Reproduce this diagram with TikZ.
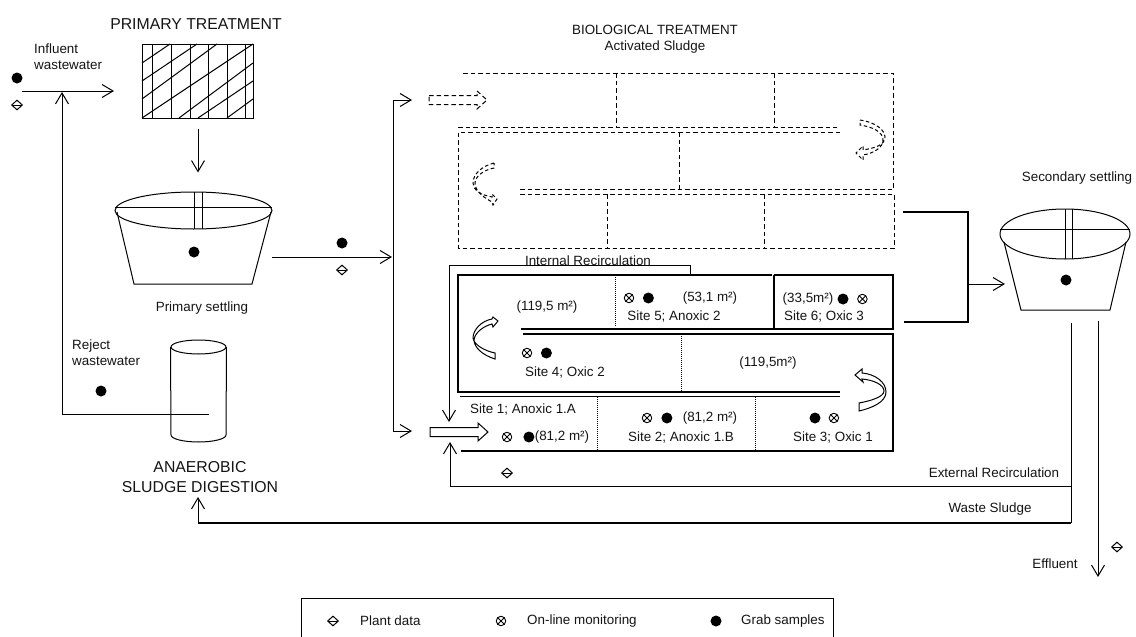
\documentclass[tikz,border=0pt]{standalone}
\usepackage{fontspec}
\setmainfont{Liberation Sans}
\usepackage{xcolor}
\usetikzlibrary{arrows.meta, positioning, shapes.geometric}
\definecolor{inkblack}{RGB}{20,20,20}
\tikzset{
  flow/.style={-{Straight Barb[length=11pt,width=13pt]},line width=1pt},
  wall/.style={line width=1.2pt},
  biodash/.style={line width=1pt,dash pattern=on 4.5pt off 3pt},
  sitedot/.style={line width=0.9pt,dash pattern=on 1pt off 1pt},
  bigtxt/.style={font=\fontsize{15.8}{20}\selectfont},
  grab/.style={circle,fill=black,minimum size=11pt,inner sep=0pt},
  online/.style={circle,draw,line width=0.9pt,minimum size=9.5pt,inner sep=0pt,
    path picture={\draw (path picture bounding box.north west) -- (path picture bounding box.south east)
      (path picture bounding box.north east) -- (path picture bounding box.south west);}},
  plant/.style={diamond,draw,line width=1pt,minimum width=11pt,minimum height=10pt,inner sep=0pt,
    path picture={\draw (path picture bounding box.west) -- (path picture bounding box.east);}},
  lidtop/.style={ellipse,draw,line width=1pt,inner sep=0pt},
  blockarrow/.pic={\draw[pic actions] (0,-4.5) -- (48,-4.5) -- (48,-9) -- (58,0) -- (48,9) -- (48,4.5) -- (0,4.5) -- cycle;}
}
\begin{document}
\begin{tikzpicture}[x=1pt,y=-1pt,every node/.style={font=\fontsize{13.4}{16}\selectfont,align=center,text=inkblack}]
  \useasboundingbox (0,0) rectangle (1136,637);

  \node[bigtxt] (primtitle) at (196,24) {PRIMARY TREATMENT};
  \node[draw,line width=1pt,minimum width=111pt,minimum height=74pt,inner sep=0pt] (screen) at (197.5,81) {};
  \foreach \hx in {152,171,190,208,227,245}
    \draw[line width=1pt] (\hx,44) -- (\hx,118);
  \foreach \xa/\ya/\xb/\yb in {142/63/170/44,142/81/197/44,142/99/217/44,142/118/253/44,179/118/253/63,198/118/253/81,227/118/253/99}
    \draw[line width=1pt] (\xa,\ya) -- (\xb,\yb);
  \node[anchor=west,align=left,inner sep=0pt] (influent) at (34,57) {Influent\\wastewater};
  \node[grab] (grabin) at (17,78) {};
  \node[plant] (plantin) at (17,105) {};
  \coordinate (instart) at (22,91);
  \coordinate (inend) at (114,91);
  \draw[flow] (instart) -- (inend);

  \node[lidtop,minimum width=157pt,minimum height=37pt] (primlid) at (193.5,210.5) {};
  \draw[line width=1pt] (115,207) -- (272,207);
  \draw[line width=1pt] (194.5,192) -- (194.5,229) (202,192) -- (202,229);
  \draw[line width=1pt] (117,212) -- (134,284) -- (252,284) -- (271,212);
  \node[grab] (grabprim) at (194,252) {};
  \node (primlabel) at (202,308) {Primary settling};
  \draw[flow] ([xshift=0.5pt,yshift=-10pt]screen.south) -- ([xshift=4.5pt,yshift=19pt]primlid.north);

  \node[lidtop,minimum width=55pt,minimum height=14pt] (digtop) at (198.5,347) {};
  \draw[line width=1pt] (digtop.west) -- (171,435) arc[start angle=180,end angle=360,x radius=27.5pt,y radius=7pt] -- (digtop.east);
  \node[anchor=west,align=left,inner sep=0pt] (rejectlabel) at (72,352.5) {Reject\\wastewater};
  \node[grab] (grabrej) at (101,391) {};
  \node[bigtxt] (digestlabel) at (200,477) {ANAEROBIC\\SLUDGE DIGESTION};
  \coordinate (rejin) at (209,414);
  \coordinate (rejcorner) at (62,414);
  \coordinate (rejtip) at (62,92);
  \draw[flow] (rejin) -- (rejcorner) -- (rejtip);

  \coordinate (primout) at (272,257);
  \coordinate (splitin) at (392,257);
  \draw[flow] (primout) -- (splitin);
  \node[grab] (grabmid) at (342,243) {};
  \node[plant] (plantmid) at (342,270) {};
  \coordinate (splittop) at (393,100);
  \coordinate (splitbot) at (393,431);
  \draw[flow] (splittop) -- (splitbot) -- (412,431);
  \draw[flow] (splittop) -- (412,100);

  \node (biotitle) at (655,39.5) {BIOLOGICAL TREATMENT\\Activated Sludge};
  \draw[biodash] (463,73) -- (893,73) -- (893,189);
  \draw[biodash] (616,73) -- (616,127) (774,73) -- (774,127);
  \draw[biodash] (458,127) -- (837,127);
  \draw[biodash] (840,132) -- (458,132) -- (458,248) -- (894,248) -- (894,194) -- (520,194);
  \draw[biodash] (520,189) -- (893,189);
  \draw[biodash] (679,132) -- (679,189) (607,194) -- (607,248) (764,194) -- (764,248);
  \pic[biodash] (dasharrow) at (429,100) {blockarrow};
  \draw[line width=1pt,dash pattern=on 3.5pt off 2.5pt] (860,120) .. controls (875,122) and (885,130) .. (885,137) .. controls (885,145) and (875,148) .. (863,150) -- (863,146) -- (856,153) -- (863,160) -- (863,155) .. controls (875,153) and (883,147) .. (883,140) .. controls (883,132) and (873,127) .. (860,125) -- cycle;
  \draw[line width=1pt,dash pattern=on 3.5pt off 2.5pt] (494,163) .. controls (482,166) and (473,174) .. (473,183) .. controls (473,190) and (481,195) .. (492,197) -- (492,194) -- (497,199) -- (493,205) -- (492,202) .. controls (485,198) and (475,192) .. (475,183) .. controls (475,177) and (483,170) .. (494,168) -- cycle;

  \node (intlabel) at (588,261) {Internal Recirculation};
  \coordinate (intstart) at (690,275);
  \coordinate (intright) at (690,265);
  \coordinate (intleft) at (449,265);
  \coordinate (inttip) at (449,422);
  \draw[flow] (intstart) -- (intright) -- (intleft) -- (inttip);

  \draw[wall] (772,275) -- (458,275) -- (458,392) -- (840,392);
  \draw[wall] (774,275) -- (893,275) -- (893,329) -- (521,329);
  \draw[wall] (774,275) -- (774,329);
  \draw[wall] (523,334) -- (893,334) -- (893,451) -- (461,451);
  \draw[line width=1pt] (460,396) -- (840,396);
  \draw[sitedot] (615,275) -- (615,327) (681,334) -- (681,391) (597,397) -- (597,450) (755,397) -- (755,450);
  \pic[line width=1pt] (solidarrow) at (430,432) {blockarrow};
  \draw[line width=1pt] (492,319) .. controls (481,321) and (473,330) .. (473,338) .. controls (474,345) and (485,351) .. (495,353) -- (495,359) .. controls (482,355) and (474,347) .. (474,340) .. controls (475,332) and (484,326) .. (492,324) -- (493,327) -- (498,321) -- (493,317) -- cycle;
  \draw[line width=1pt] (855,375) -- (862,369) -- (862,373) .. controls (875,374) and (886,382) .. (886,392) .. controls (886,402) and (872,408) .. (859,411) -- (859,403) .. controls (870,401) and (884,397) .. (884,391) .. controls (884,385) and (874,380) .. (862,379) -- (863,382) -- cycle;

  \node (area5big) at (547,307) {(119,5 m²)};
  \node[online] (on5) at (629,298) {};
  \node[grab,right=8.5pt of on5] (gr5) {};
  \node (area5) at (710,298) {(53,1 m²)};
  \node (site5) at (674,316) {Site 5; Anoxic 2};
  \node (area6) at (808,299) {(33,5m²)};
  \node[grab] (gr6) at (843,299) {};
  \node[online,right=8.5pt of gr6] (on6) {};
  \node (site6) at (824,316) {Site 6; Oxic 3};
  \node[online] (on4) at (527,353) {};
  \node[grab,right=8.5pt of on4] (gr4) {};
  \node (site4) at (565,372) {Site 4; Oxic 2};
  \node (area4) at (768,363) {(119,5m²)};
  \node (site1) at (523,409) {Site 1; Anoxic 1.A};
  \node[online] (on1) at (507,437) {};
  \node[grab,right=11pt of on1] (gr1) {};
  \node (area1) at (562,437) {(81,2 m²)};
  \node[online] (on2) at (647,418) {};
  \node[grab,right=9pt of on2] (gr2) {};
  \node (area2) at (710,418) {(81,2 m²)};
  \node (site2) at (681,437) {Site 2; Anoxic 1.B};
  \node[grab] (gr3) at (815,418) {};
  \node[online,right=8pt of gr3] (on3) {};
  \node (site3) at (833,437) {Site 3; Oxic 1};

  \coordinate (bioouttop) at (903,212);
  \coordinate (biooutbot) at (904,322);
  \coordinate (joinmid) at (968,284);
  \draw[line width=1.5pt] (bioouttop) -- (968,212) -- (968,322) -- (biooutbot);
  \coordinate (secin) at (1005,284);
  \draw[flow] (joinmid) -- (secin);

  \node (seclabel) at (1077,178) {Secondary settling};
  \node[lidtop,minimum width=130pt,minimum height=50pt] (seclid) at (1065,234) {};
  \draw[line width=1pt] (1000,229) -- (1130,229);
  \draw[line width=1pt] (1065,209) -- (1065,259) (1072,209) -- (1072,259);
  \draw[line width=1pt] (1004,242) -- (1021,310) -- (1110,310) -- (1126,242);
  \node[grab] (grabsec) at (1066,280) {};

  \coordinate (effstart) at (1098,321);
  \coordinate (efftip) at (1098,577);
  \draw[flow] (effstart) -- (efftip);
  \node[plant] (planteff) at (1117,547) {};
  \node (efflabel) at (1055,564) {Effluent};

  \coordinate (wastestart) at (1071,323);
  \coordinate (wastecorner) at (1071,523);
  \coordinate (wasteturn) at (198,523);
  \coordinate (wastetip) at (198,497);
  \draw[line width=1pt] (wastestart) -- (wastecorner);
  \draw[line width=1.5pt] (wastecorner) -- (wasteturn);
  \draw[flow] (wasteturn) -- (wastetip);
  \node (wastelabel) at (990,509) {Waste Sludge};

  \coordinate (extturn) at (1071,486);
  \coordinate (extcorner) at (450,486);
  \coordinate (exttip) at (450,442);
  \draw[flow] (extturn) -- (extcorner) -- (exttip);
  \node[plant] (plantext) at (507,473) {};
  \node (extlabel) at (994,473) {External Recirculation};

  \draw[line width=1pt] (301,637) -- (301,598) -- (833,598) -- (833,637);
  \node[plant] (legplant) at (333,621) {};
  \node[anchor=west,inner sep=0pt] (legplanttxt) at (360,621) {Plant data};
  \node[online] (legon) at (501,621) {};
  \node[anchor=west,inner sep=0pt] (legontxt) at (527,621) {On-line monitoring};
  \node[grab] (leggrab) at (716,621) {};
  \node[anchor=west,inner sep=0pt] (leggrabtxt) at (741,621) {Grab samples};
\end{tikzpicture}
\end{document}
